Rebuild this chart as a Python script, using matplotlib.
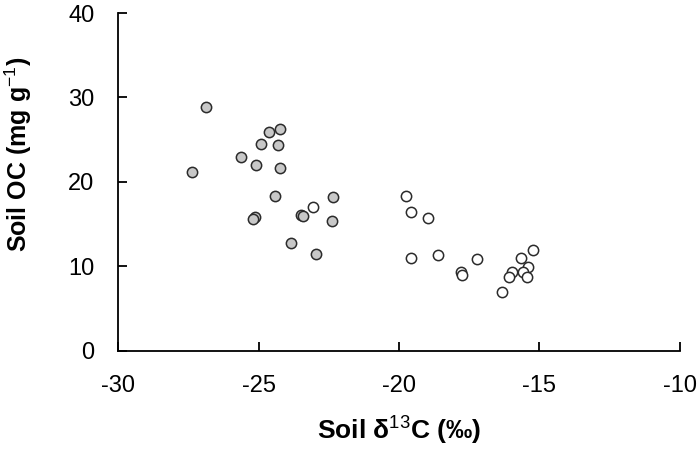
import matplotlib
matplotlib.use("Agg")
import matplotlib.pyplot as plt

plt.rcParams['font.family'] = ['Liberation Sans', 'DejaVu Sans']
plt.rcParams['axes.unicode_minus'] = False
plt.rcParams['mathtext.fontset'] = 'custom'
plt.rcParams['mathtext.rm'] = 'Liberation Sans'
plt.rcParams['mathtext.bf'] = 'Liberation Sans:bold'

# Group 1 (grey filled)
x_grey = [-26.88, -24.25, -24.62, -24.91, -24.30, -25.61, -25.08, -27.38, -24.25,
          -24.40, -22.34, -23.50, -23.40, -25.12, -25.18, -22.38, -23.84, -22.94]
y_grey = [28.9, 26.3, 25.9, 24.5, 24.4, 22.9, 22.0, 21.2, 21.7,
          18.4, 18.2, 16.1, 16.0, 15.8, 15.6, 15.4, 12.8, 11.5]

# Group 2 (open)
x_open = [-23.05, -19.75, -19.58, -18.96, -19.57, -18.60, -17.21, -17.79, -17.76,
          -15.24, -15.67, -15.41, -15.60, -15.46, -15.99, -16.10, -16.35]
y_open = [17.0, 18.4, 16.4, 15.7, 11.0, 11.4, 10.9, 9.4, 9.0,
          12.0, 11.0, 9.9, 9.3, 8.8, 9.3, 8.7, 7.0]

x_ticks = [-30, -25, -20, -15, -10]
y_ticks = [0, 10, 20, 30, 40]

fig = plt.figure(figsize=(7, 4.53), dpi=100)
ax = fig.add_axes([0.1686, 0.2252, 0.8028, 0.7461])

ax.scatter(x_grey, y_grey, s=55, facecolor='#c8c8c8', edgecolor='#2b2b2b', linewidth=1.1, zorder=3)
ax.scatter(x_open, y_open, s=55, facecolor='white', edgecolor='#2b2b2b', linewidth=1.1, zorder=3)

ax.set_xlim(-30, -10)
ax.set_ylim(0, 40)
ax.set_xticks(x_ticks)
ax.set_yticks(y_ticks)
ax.set_xticklabels([str(v) for v in x_ticks])
ax.set_yticklabels([str(v) for v in y_ticks])

for s in ['top', 'right']:
    ax.spines[s].set_visible(False)
for s in ['left', 'bottom']:
    ax.spines[s].set_linewidth(1.3)
    ax.spines[s].set_color('black')

ax.tick_params(direction='in', length=6.5, width=1.3, labelsize=17, colors='black')
ax.tick_params(axis='y', pad=17)
ax.tick_params(axis='x', pad=17)

ax.set_xlabel('Soil δ$^{\\mathrm{13}}$C (‰)', fontsize=19, fontweight='bold')
ax.set_ylabel('Soil OC (mg g$^{\\mathrm{-1}}$)', fontsize=18, fontweight='bold')
ax.xaxis.set_label_coords(0.5, (351 - 430) / 338)
ax.xaxis.label.set_verticalalignment('center')
ax.yaxis.set_label_coords((18 - 118) / 562, (351 - 154) / 338)
ax.yaxis.label.set_verticalalignment('center')

fig.savefig('out.png', dpi=100)
